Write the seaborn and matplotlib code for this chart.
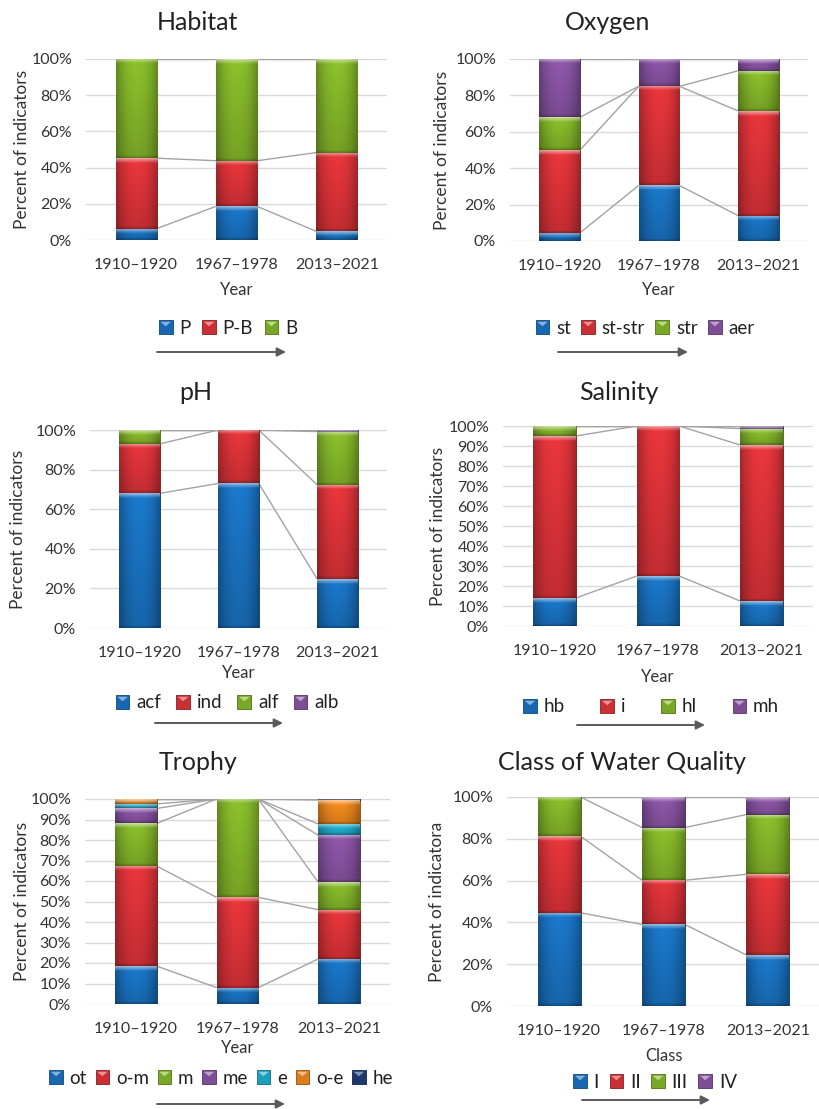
import numpy as np
import matplotlib
matplotlib.use("Agg")
import matplotlib.pyplot as plt
import seaborn as sns
from matplotlib.ticker import PercentFormatter, MultipleLocator
from matplotlib.legend_handler import HandlerPatch
from matplotlib.patches import Rectangle, Polygon, Patch, FancyArrowPatch
from matplotlib.colors import to_rgb

# ---------------------------------------------------------------- data
periods = ["1910–1920", "1967–1978", "2013–2021"]

habitat_labels = ["P", "P-B", "B"]
habitat_P = [6.3, 18.6, 4.8]
habitat_PB = [38.9, 25.2, 43.5]
habitat_B = [54.8, 56.2, 51.7]

oxygen_labels = ["st", "st-str", "str", "aer"]
oxygen_st = [4.5, 30.5, 14.0]
oxygen_st_str = [45.5, 54.5, 57.5]
oxygen_str = [18.0, 0.0, 22.0]
oxygen_aer = [32.0, 15.0, 6.5]

ph_labels = ["acf", "ind", "alf", "alb"]
ph_acf = [68.0, 73.0, 24.7]
ph_ind = [25.0, 27.0, 47.6]
ph_alf = [7.0, 0.0, 26.9]
ph_alb = [0.0, 0.0, 0.8]

salinity_labels = ["hb", "i", "hl", "mh"]
salinity_hb = [14.0, 25.0, 12.5]
salinity_i = [81.0, 75.0, 78.0]
salinity_hl = [5.0, 0.0, 8.2]
salinity_mh = [0.0, 0.0, 1.3]

trophy_labels = ["ot", "o-m", "m", "me", "e", "o-e", "he"]
trophy_ot = [18.5, 8.0, 22.0]
trophy_om = [48.8, 44.0, 24.0]
trophy_m = [20.8, 48.0, 13.3]
trophy_me = [7.3, 0.0, 23.0]
trophy_e = [2.2, 0.0, 5.5]
trophy_oe = [2.4, 0.0, 11.7]
trophy_he = [0.0, 0.0, 0.5]

quality_labels = ["I", "II", "III", "IV"]
quality_I = [44.6, 39.0, 24.4]
quality_II = [36.6, 21.2, 38.6]
quality_III = [18.8, 25.2, 28.6]
quality_IV = [0.0, 14.6, 8.4]

# ---------------------------------------------------------------- style
BLUE, RED, GREEN, PURPLE = "#1a74c4", "#e0343a", "#86b92a", "#8b55a6"
CYAN, ORANGE, NAVY = "#1fb0d2", "#f28a1e", "#1f3d7a"

W_PX, H_PX, DPI = 820, 1109, 100
BAR_W = 0.41

sns.set_theme(style="white")
plt.rcParams["font.family"] = ["Lato", "DejaVu Sans"]
TXT = "#333333"


def shade_rgb(c, f):
    return tuple(np.clip(np.array(to_rgb(c)) * f, 0, 1))


def tint_rgb(c, a):
    r = np.array(to_rgb(c))
    return tuple(r + (1 - r) * a)


def bevel_image(color, h_px, w_px):
    """Glossy bevel fill for one bar segment."""
    h = max(int(round(h_px)), 2)
    w = max(int(round(w_px)), 2)
    u = (np.arange(w) + 0.5) / w
    horiz = 1.0 - 0.30 * np.abs(2 * u - 1) ** 2.2
    r = np.arange(h) + 0.5
    vert = 1.05 - 0.18 * (r / h)
    base = np.array(to_rgb(color))
    img = base[None, None, :] * (vert[:, None] * horiz[None, :])[..., None]
    hl = np.clip(1 - (r - 0.5) / 4.5, 0, 1) * 0.5
    img = img * (1 - hl[:, None, None]) + hl[:, None, None]
    dk = np.clip(1 - (h - r) / 3.0, 0, 1) * 0.25
    img = img * (1 - dk[:, None, None])
    return np.clip(img, 0, 1)


class BevelHandler(HandlerPatch):
    def create_artists(self, legend, orig_handle, xdescent, ydescent,
                       width, height, fontsize, trans):
        c = orig_handle.get_facecolor()
        s = min(width, height)
        x0 = -xdescent + (width - s) / 2
        y0 = -ydescent + (height - s) / 2
        sq = Rectangle((x0, y0), s, s, facecolor=shade_rgb(c, 0.9),
                       edgecolor=shade_rgb(c, 0.6), lw=0.6, transform=trans)
        tri = Polygon([[x0 + s * 0.12, y0 + s * 0.88], [x0 + s * 0.88, y0 + s * 0.88],
                       [x0 + s * 0.5, y0 + s * 0.55]], closed=True,
                      facecolor=tint_rgb(c, 0.45), edgecolor="none", transform=trans)
        return [sq, tri]


def fx(px):
    return px / W_PX


def fy(py):
    return 1 - py / H_PX


panels = [
    dict(title="Habitat", box=(86, 59, 387, 240), title_xy=(197, 22), ylab_x=22,
         ylabel="Percent of indicators", xlabel="Year", xlab_y=290, step=20,
         layers=[(habitat_labels[0], habitat_P, BLUE), (habitat_labels[1], habitat_PB, RED),
                 (habitat_labels[2], habitat_B, GREEN)],
         leg=(228, 328), colsp=0.6, arrow=(157, 286, 352)),
    dict(title="Oxygen", box=(510, 59, 808, 241), title_xy=(608, 22), ylab_x=442,
         ylabel="Percent of indicators", xlabel="Year", xlab_y=290, step=20,
         layers=[(oxygen_labels[0], oxygen_st, BLUE), (oxygen_labels[1], oxygen_st_str, RED),
                 (oxygen_labels[2], oxygen_str, GREEN), (oxygen_labels[3], oxygen_aer, PURPLE)],
         leg=(645, 328), colsp=0.55, arrow=(558, 688, 352)),
    dict(title="pH", box=(90, 430, 387, 628), title_xy=(196, 393), ylab_x=18,
         ylabel="Percent of indicators", xlabel="Year", xlab_y=673, step=20,
         layers=[(ph_labels[0], ph_acf, BLUE), (ph_labels[1], ph_ind, RED),
                 (ph_labels[2], ph_alf, GREEN), (ph_labels[3], ph_alb, PURPLE)],
         leg=(227, 703), colsp=0.8, arrow=(155, 283, 723)),
    dict(title="Salinity", box=(503, 426, 813, 626), title_xy=(619, 392), ylab_x=438,
         ylabel="Percent of indicators", xlabel="Year", xlab_y=677, step=10,
         layers=[(salinity_labels[0], salinity_hb, BLUE), (salinity_labels[1], salinity_i, RED),
                 (salinity_labels[2], salinity_hl, GREEN), (salinity_labels[3], salinity_mh, PURPLE)],
         leg=(651, 707), colsp=1.9, arrow=(577, 705, 725)),
    dict(title="Trophy", box=(85, 799, 390, 1004), title_xy=(198, 762), ylab_x=22,
         ylabel="Percent of indicators", xlabel="Year", xlab_y=1048, step=10,
         layers=[(trophy_labels[0], trophy_ot, BLUE), (trophy_labels[1], trophy_om, RED),
                 (trophy_labels[2], trophy_m, GREEN), (trophy_labels[3], trophy_me, PURPLE),
                 (trophy_labels[4], trophy_e, CYAN), (trophy_labels[5], trophy_oe, ORANGE),
                 (trophy_labels[6], trophy_he, NAVY)],
         leg=(221, 1078), colsp=0.45, arrow=(157, 285, 1104)),
    dict(title="Class of Water Quality", box=(507, 797, 820, 1006), title_xy=(622, 763),
         ylab_x=437, ylabel="Percent of indicatora", xlabel="Class", xlab_y=1056, step=20,
         layers=[(quality_labels[0], quality_I, BLUE), (quality_labels[1], quality_II, RED),
                 (quality_labels[2], quality_III, GREEN), (quality_labels[3], quality_IV, PURPLE)],
         leg=(655, 1082), colsp=0.55, arrow=(582, 710, 1100)),
]

fig = plt.figure(figsize=(W_PX / DPI, H_PX / DPI), dpi=DPI)
fig.patch.set_facecolor("white")

for p in panels:
    x0, y0, x1, y1 = p["box"]
    ax = fig.add_axes([fx(x0), fy(y1), fx(x1 - x0), (y1 - y0) / H_PX])
    ax_w_px, ax_h_px = x1 - x0, y1 - y0

    bottom = np.zeros(len(periods))
    tops = []
    handles = []
    for label, vals, color in p["layers"]:
        vals = np.asarray(vals, dtype=float)
        n_before = len(ax.patches)
        sns.barplot(x=periods, y=vals, bottom=bottom.copy(), color=color, saturation=1,
                    width=BAR_W, errorbar=None, ax=ax, edgecolor=shade_rgb(color, 0.62),
                    linewidth=0.7, zorder=3)
        for bar in ax.patches[n_before:]:
            h = bar.get_height()
            if h <= 0:
                bar.set_visible(False)
                continue
            bx, by, bw = bar.get_x(), bar.get_y(), bar.get_width()
            im = ax.imshow(bevel_image(color, h / 100 * ax_h_px, bw / 3 * ax_w_px),
                           extent=(bx, bx + bw, by, by + h), aspect="auto",
                           origin="upper", interpolation="bilinear", zorder=3.5)
            im.set_clip_path(bar)
        bottom = bottom + vals
        tops.append(bottom.copy())
        handles.append(Patch(facecolor=color, label=label))

    # series lines joining the top of every layer between neighbouring bars
    for cum in tops:
        for i in range(len(periods) - 1):
            ax.plot([i + BAR_W / 2, i + 1 - BAR_W / 2], [cum[i], cum[i + 1]],
                    color="#a3a3a3", lw=1.0, zorder=2.5, solid_capstyle="butt")

    ax.set_xlim(-0.5, len(periods) - 0.5)
    ax.set_ylim(0, 100)
    ax.yaxis.set_major_locator(MultipleLocator(p["step"]))
    ax.yaxis.set_major_formatter(PercentFormatter(100, decimals=0))
    ax.grid(axis="y", color="#d9d9d9", lw=1.0, zorder=0)
    ax.grid(axis="x", visible=False)
    ax.set_axisbelow(True)
    for s in ax.spines.values():
        s.set_visible(False)
    ax.tick_params(axis="both", length=0, colors=TXT, labelsize=11.5)
    ax.tick_params(axis="x", pad=13)
    ax.tick_params(axis="y", pad=10)
    ax.set_xlabel("")
    ax.set_ylabel("")

    tx, ty = p["title_xy"]
    fig.text(fx(tx), fy(ty), p["title"], ha="center", va="center", fontsize=18, color="#222222")
    fig.text(fx(p["ylab_x"]), fy((y0 + y1) / 2), p["ylabel"], rotation=90,
             ha="center", va="center", fontsize=12.5, color=TXT)
    fig.text(fx((x0 + x1) / 2), fy(p["xlab_y"]), p["xlabel"], ha="center", va="center",
             fontsize=12, color=TXT)

    lx, ly = p["leg"]
    fig.legend(handles=handles, loc="center", bbox_to_anchor=(fx(lx), fy(ly)),
               bbox_transform=fig.transFigure, ncol=len(handles), frameon=False,
               fontsize=13.5, handlelength=0.75, handleheight=0.75, handletextpad=0.35,
               columnspacing=p["colsp"], borderpad=0, labelcolor="#222222",
               handler_map={Patch: BevelHandler()})

    ax0, ax1, ay = p["arrow"]
    fig.add_artist(FancyArrowPatch((fx(ax0), fy(ay)), (fx(ax1), fy(ay)),
                                   transform=fig.transFigure, arrowstyle="-|>",
                                   mutation_scale=13, color="#5a5a5a", lw=1.4,
                                   shrinkA=0, shrinkB=0))

fig.savefig("out.png", dpi=DPI, facecolor="white")
